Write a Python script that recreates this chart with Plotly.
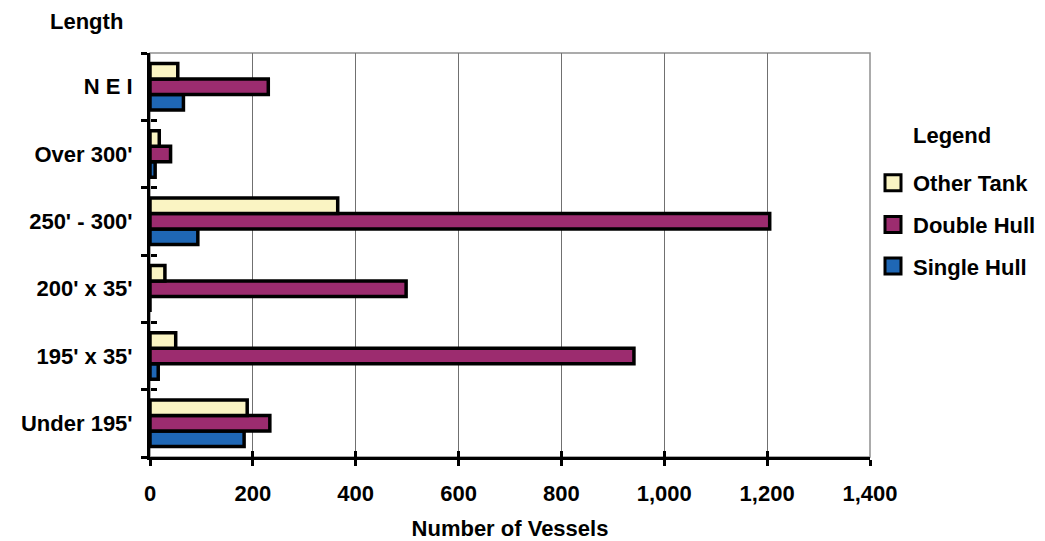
import plotly.graph_objects as go

categories = ["Under 195'", "195' x 35'", "200' x 35'", "250' - 300'", "Over 300'", "N E I"]
single_hull = [183, 16, 0, 93, 10, 65]
double_hull = [233, 941, 498, 1205, 40, 230]
other_tank = [189, 50, 29, 365, 18, 54]
x_ticks = [0, 200, 400, 600, 800, 1000, 1200, 1400]
series_names = ["Single Hull", "Double Hull", "Other Tank"]

FONT = "Arial, Liberation Sans, sans-serif"
colors = {"Single Hull": "#1F67B5", "Double Hull": "#9C2C6F", "Other Tank": "#FAF4C3"}
legend_rank = {"Other Tank": 1, "Double Hull": 2, "Single Hull": 3}

fig = go.Figure()
for name, vals in zip(series_names, [single_hull, double_hull, other_tank]):
    fig.add_trace(go.Bar(
        y=categories, x=vals, name=name, orientation="h",
        marker=dict(color=colors[name], line=dict(color="black", width=3.5)),
        showlegend=False,
    ))

# legend-only entries with large square swatches
for name in series_names:
    fig.add_trace(go.Scatter(
        x=[None], y=[None], name=name, mode="markers",
        marker=dict(symbol="square", size=16, color=colors[name], line=dict(color="black", width=3)),
        legendgroup=name, legendrank=legend_rank[name], showlegend=True, hoverinfo="skip",
    ))

# invisible helper trace for the inner half of the crossing tick marks
fig.add_trace(go.Scatter(
    x=[0] * len(categories), y=categories, xaxis="x2", yaxis="y2",
    mode="markers", marker=dict(opacity=0), showlegend=False, hoverinfo="skip",
))

bold = dict(family=FONT, size=22, color="black", weight="bold")
W, H = 1045, 541

fig.update_layout(
    template="none",
    width=W, height=H,
    margin=dict(l=150, r=175, t=53, b=84, pad=0, autoexpand=False),
    paper_bgcolor="white", plot_bgcolor="white",
    barmode="group", bargap=0.31, bargroupgap=0,
    showlegend=True,
    legend=dict(
        xref="container", yref="container",
        x=873 / W, xanchor="left",
        y=1 - 162 / H, yanchor="top",
        traceorder="grouped", tracegroupgap=10,
        font=bold, bgcolor="rgba(0,0,0,0)", borderwidth=0,
    ),
    xaxis=dict(
        range=[0, 1400], tickvals=x_ticks, tickformat=",",
        showgrid=True, gridcolor="#707070", gridwidth=1,
        showline=True, linecolor="black", linewidth=3,
        ticks="outside", ticklen=6, tickwidth=3, tickcolor="black",
        tickfont=bold, ticklabelstandoff=9,
        zeroline=False, automargin=False,
        title=dict(text="Number of Vessels", font=bold, standoff=17),
        fixedrange=True,
    ),
    yaxis=dict(
        type="category", categoryorder="array", categoryarray=categories,
        range=[-0.5, 5.5],
        showgrid=False, showline=True, linecolor="black", linewidth=3,
        ticks="outside", tickson="boundaries", ticklen=6, tickwidth=3, tickcolor="black",
        tickfont=bold, ticklabelstandoff=10, automargin=False,
        fixedrange=True,
    ),
    xaxis2=dict(
        overlaying="x", anchor="free", position=0, side="bottom",
        range=[0, 1400], tickvals=x_ticks, showticklabels=False,
        ticks="inside", ticklen=6, tickwidth=3, tickcolor="black",
        showgrid=False, showline=False, zeroline=False, fixedrange=True, automargin=False,
    ),
    yaxis2=dict(
        overlaying="y", anchor="free", position=0, side="left",
        type="category", categoryorder="array", categoryarray=categories,
        range=[-0.5, 5.5], showticklabels=False,
        ticks="inside", tickson="boundaries", ticklen=6, tickwidth=3, tickcolor="black",
        showgrid=False, showline=False, zeroline=False, fixedrange=True, automargin=False,
    ),
    shapes=[dict(type="rect", xref="paper", yref="paper", x0=0, x1=1, y0=0, y1=1,
                 line=dict(color="#909090", width=1.5), layer="below")],
    annotations=[
        dict(text="Length", xref="paper", yref="paper", x=(86 - 150) / 720, y=(457 - 22) / 404,
             xanchor="center", yanchor="middle", showarrow=False, font=bold),
        dict(text="Legend", xref="paper", yref="paper", x=(952 - 150) / 720, y=(457 - 135) / 404,
             xanchor="center", yanchor="middle", showarrow=False, font=bold),
    ],
)

fig.write_html("out.html", config={"displayModeBar": False},
               post_script="document.body.style.margin='0';")
